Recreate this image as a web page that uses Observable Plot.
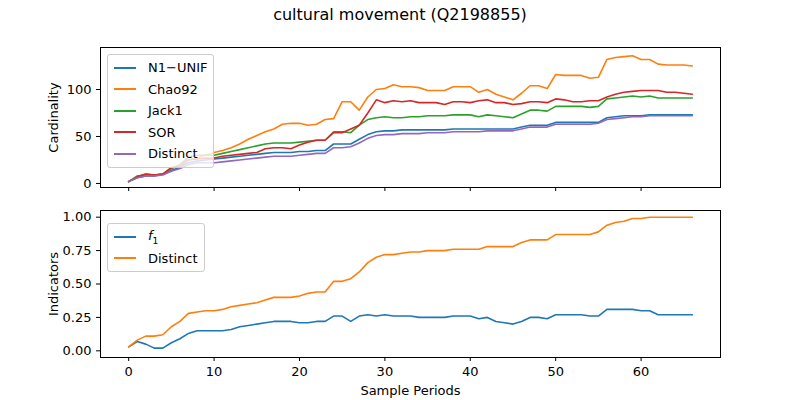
<!DOCTYPE html>
<html>
<head>
<meta charset="utf-8">
<script src="https://cdn.jsdelivr.net/npm/d3@7"></script>
<script src="https://cdn.jsdelivr.net/npm/@observablehq/plot@0.6"></script>
<style>
  body { margin: 0; background: #fff; font-family: "DejaVu Sans", sans-serif; }
  #wrap { position: relative; width: 800px; height: 400px; }
  #title { height: 30px; line-height: 26px; text-align: center; font-size: 16px; padding-top: 2px; box-sizing: border-box; }
  .legend { position: absolute; background: rgba(255,255,255,0.8); border: 1px solid #ccc; border-radius: 3px; font-size: 13px; padding: 2px 6px; }
  .legend div { display: flex; align-items: center; height: 21.5px; }
  .legend span.sw { display: inline-block; width: 22px; height: 2px; margin-right: 12px; }
</style>
</head>
<body>
<div id="wrap">
  <div id="title">cultural movement (Q2198855)</div>
  <div id="top"></div>
  <div id="bottom"></div>
  <div class="legend" id="leg1" style="left:107px; top:54px;"></div>
  <div class="legend" id="leg2" style="left:107px; top:223px;"></div>
</div>
<script>
const periods = d3.range(0, 67)

const n1Unif = [2,6,8,8,10,14,17,22,24,25,26,27,28,29,30,31,32,33,33,33,34,34,35,35,42,42,42,47,52,55,56,56,57,57,57,57,57,57,58,58,58,58,58,58,58,58,60,62,62,62,65,65,65,65,65,65,70,71,72,72,72,73,73,73,73,73,73]
const chao92 = [2,7,10,9,10,16,20,25,27,30,33,35,38,42,47,51,55,58,63,64,64,62,63,68,69,87,87,78,92,100,101,105,103,103,102,99,99,99,103,103,103,97,100,95,92,89,96,104,104,101,116,115,115,115,112,113,132,134,135,136,132,132,127,126,126,126,125]
const jack1 = [2,8,9,9,10,16,20,28,30,30,30,32,34,36,38,40,42,43,43,43,44,45,46,46,55,55,54,62,68,70,71,70,70,71,71,72,72,72,73,73,73,71,73,72,71,70,74,78,78,77,82,82,82,82,81,82,90,91,92,93,92,93,91,91,91,91,91]
const sor = [2,7,10,9,10,17,18,25,26,27,27,29,30,31,32,33,37,38,38,37,41,44,46,46,54,54,58,62,75,89,86,88,87,88,86,86,86,84,87,87,86,88,89,86,86,84,85,87,87,86,90,89,87,87,88,88,92,95,97,98,99,99,99,97,97,96,95]
const distinct = [2,6,8,8,9,13,16,20,22,22,22,23,24,25,26,27,28,29,29,29,30,31,32,32,38,38,39,43,48,51,52,52,53,53,53,54,54,54,55,55,55,55,56,56,56,56,58,60,60,60,63,63,63,63,63,64,68,69,70,71,71,72,72,72,72,72,72]

const f1 = [0.03,0.07,0.05,0.02,0.02,0.06,0.09,0.13,0.15,0.15,0.15,0.15,0.16,0.18,0.19,0.20,0.21,0.22,0.22,0.22,0.21,0.21,0.22,0.22,0.26,0.26,0.22,0.26,0.27,0.26,0.27,0.26,0.26,0.26,0.25,0.25,0.25,0.25,0.26,0.26,0.26,0.24,0.25,0.22,0.21,0.20,0.22,0.25,0.25,0.24,0.27,0.27,0.27,0.27,0.26,0.26,0.31,0.31,0.31,0.31,0.30,0.30,0.27,0.27,0.27,0.27,0.27]
const distinctRatio = [0.03,0.08,0.11,0.11,0.12,0.18,0.22,0.28,0.29,0.30,0.30,0.31,0.33,0.34,0.35,0.36,0.38,0.40,0.40,0.40,0.41,0.43,0.44,0.44,0.52,0.52,0.54,0.59,0.66,0.70,0.72,0.72,0.73,0.74,0.74,0.75,0.75,0.75,0.76,0.76,0.76,0.76,0.78,0.78,0.78,0.78,0.81,0.83,0.83,0.83,0.87,0.87,0.87,0.87,0.87,0.89,0.94,0.96,0.97,0.99,0.99,1,1,1,1,1,1]

const topSeries = [
  {name: "N1\u2212UNIF", values: n1Unif, color: "#1f77b4"},
  {name: "Chao92", values: chao92, color: "#ff7f0e"},
  {name: "Jack1", values: jack1, color: "#2ca02c"},
  {name: "SOR", values: sor, color: "#d62728"},
  {name: "Distinct", values: distinct, color: "#9467bd"}
]
const bottomSeries = [
  {name: "<i>f</i><sub style='font-size:9px'>1</sub>", values: f1, color: "#1f77b4"},
  {name: "Distinct", values: distinctRatio, color: "#ff7f0e"}
]

const rows = ss => ss.flatMap(s => s.values.map((v, i) => ({x: periods[i], y: v, s: s.name})))
const xDomain = [-3.3, 69.3]

function panel(series, opts) {
  return Plot.plot({
    width: 800,
    height: opts.height,
    marginLeft: 100, marginRight: 80,
    marginTop: opts.marginTop, marginBottom: opts.marginBottom,
    style: {fontFamily: "DejaVu Sans, sans-serif", fontSize: "13px", color: "#000"},
    x: {domain: xDomain},
    y: {domain: opts.yDomain},
    color: {domain: series.map(s => s.name), range: series.map(s => s.color)},
    marks: [
      Plot.frame({stroke: "#000"}),
      Plot.axisX({ticks: [0,10,20,30,40,50,60], tickSize: 4, tickFormat: opts.xLabels ? d => d : () => "",
        label: opts.xLabels ? "Sample Periods" : null, labelAnchor: "center", labelArrow: "none", labelOffset: 37, fontSize: 13}),
      Plot.axisY({ticks: opts.yTicks, tickSize: 4, tickFormat: opts.yFormat,
        label: opts.yLabel, labelAnchor: "center", labelArrow: "none", labelOffset: 52, fontSize: 13}),
      Plot.line(rows(series), {x: "x", y: "y", z: "s", stroke: "s", strokeWidth: 1.6})
    ]
  })
}

d3.select("#top").append(() => panel(topSeries, {
  height: 170, marginTop: 17, marginBottom: 13,
  yDomain: [-4.3, 144.7], yTicks: [0, 50, 100], yFormat: d => d, yLabel: "Cardinality", xLabels: false
}))
d3.select("#bottom").append(() => panel(bottomSeries, {
  height: 200, marginTop: 10, marginBottom: 43,
  yDomain: [-0.05, 1.05], yTicks: [0, 0.25, 0.5, 0.75, 1], yFormat: d3.format(".2f"), yLabel: "Indicators", xLabels: true
}))

function legend(id, series) {
  d3.select(id).selectAll("div").data(series).join("div")
    .html(s => `<span class="sw" style="background:${s.color}"></span><span>${s.name}</span>`)
}
legend("#leg1", topSeries)
legend("#leg2", bottomSeries)
</script>
</body>
</html>
